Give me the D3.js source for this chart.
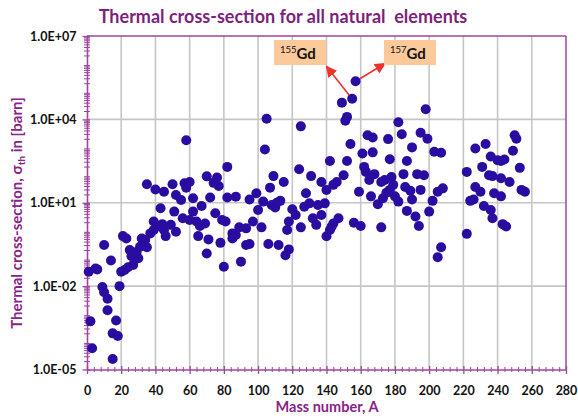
<!DOCTYPE html>
<html>
<head>
<meta charset="utf-8">
<script src="https://cdn.jsdelivr.net/npm/d3@7/dist/d3.min.js"></script>
<style>
  body { margin: 0; background: #fff; }
  svg { display: block; }
</style>
</head>
<body>
<svg id="chart" width="578" height="416"></svg>
<script>
// Thermal neutron capture cross-section (barn) versus mass number A
const massNumber = [
  1, 2, 3, 5, 6, 9, 10, 10, 12, 12, 14, 15, 15, 17, 18, 19, 20, 21, 22, 23,
  24, 25, 26, 27, 29, 30, 31, 32, 34, 35, 35, 37, 39, 39, 40, 43, 43, 44, 45, 45,
  46, 49, 50, 51, 52, 52, 55, 56, 57, 58, 58, 60, 60, 62, 62, 64, 65, 66, 67, 70,
  69, 71, 70, 72, 74, 75, 76, 77, 78, 79, 80, 81, 82, 82, 85, 85, 87, 87, 89, 90,
  93, 93, 95, 95, 97, 99, 100, 102, 103, 104, 105, 106, 107, 108, 109, 110, 111, 113, 112, 115,
  116, 117, 118, 118, 120, 122, 124, 125, 125, 127, 128, 130, 131, 132, 134, 135, 137, 137, 139, 140,
  140, 142, 142, 143, 144, 144, 146, 147, 149, 150, 151, 152, 152, 154, 155, 156, 157, 159, 160, 161,
  162, 163, 164, 165, 166, 167, 167, 168, 170, 172, 172, 173, 174, 175, 176, 177, 177, 178, 179, 180,
  182, 182, 184, 185, 186, 187, 187, 189, 190, 190, 192, 193, 194, 195, 195, 197, 198, 199, 200, 202,
  203, 205, 205, 207, 207, 208, 222, 222, 224, 226, 227, 227, 230, 231, 232, 233, 235, 236, 236, 237,
  237, 238, 240, 242, 242, 242, 243, 244, 245, 247, 249, 250, 251, 253, 254, 256
];
const crossSection = [
  0.033, 5.4e-4, 5.8e-5, 0.043, 0.040, 0.0093, 0.0060, 0.30, 0.0035, 0.00135, 0.083, 2.0e-4, 2.4e-5, 5.8e-4, 1.6e-4, 0.010, 0.033, 0.63, 0.038, 0.52,
  0.048, 0.20, 0.12, 0.058, 0.17, 0.10, 0.26, 0.52, 0.46, 0.25, 46, 0.79, 2.1, 1.05, 30, 6.3, 1.4, 1.7, 1.05, 25,
  0.63, 1.6, 46, 4.8, 0.91, 19, 12.6, 2.75, 50, 35, 1780, 56, 2.4, 4.8, 14.5, 2.1, 0.63, 1.45, 7.6, 89,
  1.8, 0.48, 0.15, 15.5, 52, 4.2, 81, 40, 0.36, 2.4, 0.050, 2.1, 15.5, 195, 0.79, 0.52, 16.6, 0.69, 1.3, 0.076,
  1.2, 0.30, 0.33, 13, 2.1, 22, 5.5, 1.3, 11, 830, 10500, 0.33, 35, 8.3, 91, 6.8, 10, 11.7, 0.30, 56,
  0.13, 1.05, 0.21, 2.1, 5.8, 3.6, 160, 1.3, 5600, 7.2, 22, 9.5, 91, 2.75, 1.6, 8.3, 3.6, 56, 9.5, 0.62,
  29, 320, 1.05, 1.38, 44, 1.8, 56, 2.75, 40000, 98, 8900, 12300, 320, 1300, 55000, 1.9, 234000, 25, 1.45, 590,
  195, 129, 2700, 66, 17, 650, 2240, 107, 8.9, 56, 1.3, 14.5, 66, 23, 1950, 370, 29, 85, 44, 17,
  7900, 11, 2900, 107, 37, 316, 5.1, 27, 13, 980, 3.2, 107, 1.45, 29, 3300, 98, 23000, 2000, 4.8, 11.7,
  680, 25, 0.11, 630, 0.25, 33, 0.76, 129, 11.7, 13, 890, 37, 25, 195, 7.6, 1300, 98, 5.5, 460, 91,
  2.75, 22, 340, 320, 76, 17, 1.7, 360, 1.4, 56, 740, 2700, 2000, 180, 29, 25
];

// Axis ticks and labels
const xTicks = [0, 20, 40, 60, 80, 100, 120, 140, 160, 180, 200, 220, 240, 260, 280];
const yTicks = [1e-5, 1e-2, 1e1, 1e4, 1e7];
const yTickLabels = ["1.0E-05", "1.0E-02", "1.0E+01", "1.0E+04", "1.0E+07"];

// Highlighted gadolinium isotopes
const gdMass = [155, 157];
const gdMassLabel = ["155", "157"];
const gdElement = "Gd";

const chartTitle = "Thermal cross-section for all natural  elements";
const xTitle = "Mass number, A";

const svg = d3.select("#chart");
const plotLeft = 87, plotRight = 566, plotTop = 36, plotBottom = 369.5;

const x = d3.scaleLinear().domain([0, 280]).range([plotLeft, plotRight]);
const y = d3.scaleLog().domain([1e-5, 1e7]).range([plotBottom, plotTop]);

const axisColor = "#A044A0";
const gridColor = "#C6C6C6";
const titleColor = "#7E1F7C";
const labelColor = "#8A2388";
const dotColor = "#2A0DA0";
const arrowColor = "#F0322C";
const boxFill = "#FBC99A";
const fontStack = "Lato, 'Liberation Sans', sans-serif";

// Gridlines
const grid = svg.append("g");
grid.selectAll("line.v")
  .data(xTicks.filter(d => d > 0 && d < 280))
  .join("line").attr("class", "v")
  .attr("x1", d => x(d)).attr("x2", d => x(d))
  .attr("y1", plotTop).attr("y2", plotBottom)
  .attr("stroke", gridColor).attr("stroke-width", 1.6);
grid.selectAll("line.h")
  .data(yTicks.filter(d => d > 1e-5 && d < 1e7))
  .join("line").attr("class", "h")
  .attr("x1", plotLeft).attr("x2", plotRight)
  .attr("y1", d => y(d)).attr("y2", d => y(d))
  .attr("stroke", gridColor).attr("stroke-width", 1.6);

// Frame on the top and right
svg.append("line").attr("x1", plotLeft).attr("x2", plotRight).attr("y1", plotTop).attr("y2", plotTop)
  .attr("stroke", axisColor).attr("stroke-width", 1.5);
svg.append("line").attr("x1", plotRight).attr("x2", plotRight).attr("y1", plotTop).attr("y2", plotBottom)
  .attr("stroke", axisColor).attr("stroke-width", 1.5);

// Minor ticks
const yMinor = [];
for (let e = -5; e < 7; e++) for (let m = 2; m <= 9; m++) yMinor.push(m * Math.pow(10, e));
const xMinor = d3.range(4, 280, 4).filter(d => d % 20 !== 0);

const yMinorAxis = svg.append("g").attr("transform", `translate(${plotLeft},0)`)
  .call(d3.axisLeft(y).tickValues(yMinor).tickFormat("").tickSize(3).tickSizeOuter(0));
yMinorAxis.select(".domain").remove();
yMinorAxis.selectAll(".tick line").attr("x1", 3).attr("stroke", axisColor).attr("stroke-width", 1);

const xMinorAxis = svg.append("g").attr("transform", `translate(0,${plotBottom})`)
  .call(d3.axisBottom(x).tickValues(xMinor).tickFormat("").tickSize(2.5).tickSizeOuter(0));
xMinorAxis.select(".domain").remove();
xMinorAxis.selectAll(".tick line").attr("y1", -2.5).attr("stroke", axisColor).attr("stroke-width", 1);

// Main axes
const yAxis = svg.append("g").attr("transform", `translate(${plotLeft},0)`)
  .call(d3.axisLeft(y).tickValues(yTicks).tickFormat((d, i) => yTickLabels[i])
    .tickSize(4.5).tickSizeOuter(0).tickPadding(6));
yAxis.select(".domain").attr("stroke", axisColor).attr("stroke-width", 1.6);
yAxis.selectAll(".tick line").attr("x1", 3).attr("stroke", axisColor).attr("stroke-width", 1.3);
yAxis.selectAll(".tick text")
  .attr("fill", "#111").attr("font-family", fontStack)
  .attr("font-weight", "bold").attr("font-size", 12.5);

const xAxis = svg.append("g").attr("transform", `translate(0,${plotBottom})`)
  .call(d3.axisBottom(x).tickValues(xTicks).tickFormat(d3.format("d"))
    .tickSize(4.5).tickSizeOuter(0).tickPadding(12));
xAxis.select(".domain").attr("stroke", axisColor).attr("stroke-width", 1.6);
xAxis.selectAll(".tick line").attr("y1", -3.5).attr("stroke", axisColor).attr("stroke-width", 1.3);
xAxis.selectAll(".tick text")
  .attr("fill", "#111").attr("font-family", fontStack)
  .attr("font-weight", "bold").attr("font-size", 12.5);

// Arrows from the Gd points to their labels
const defs = svg.append("defs");
defs.append("marker").attr("id", "arrowHead")
  .attr("viewBox", "0 0 10 10").attr("refX", 9).attr("refY", 5)
  .attr("markerWidth", 7).attr("markerHeight", 7).attr("orient", "auto")
  .append("path").attr("d", "M0,0 L10,5 L0,10 Z").attr("fill", arrowColor);

const gdPoints = gdMass.map(a => {
  let best = -1;
  massNumber.forEach((m, i) => { if (m === a && (best < 0 || crossSection[i] > crossSection[best])) best = i; });
  return { a, s: crossSection[best] };
});
const boxes = [
  { x: 274, y: 40, w: 52, h: 25, tipX: 326.5, tipY: 66.5 },
  { x: 384, y: 40, w: 52, h: 25, tipX: 385, tipY: 63.5 }
];

const ann = svg.append("g");
gdPoints.forEach((p, i) => {
  const b = boxes[i];
  const px = x(p.a), py = y(p.s);
  const dx = b.tipX - px, dy = b.tipY - py, len = Math.hypot(dx, dy);
  ann.append("line")
    .attr("x1", px + dx / len * 5).attr("y1", py + dy / len * 5)
    .attr("x2", b.tipX).attr("y2", b.tipY)
    .attr("stroke", arrowColor).attr("stroke-width", 1.6)
    .attr("marker-end", "url(#arrowHead)");
  ann.append("rect").attr("x", b.x).attr("y", b.y).attr("width", b.w).attr("height", b.h)
    .attr("fill", boxFill);
  const t = ann.append("text").attr("x", b.x + 6).attr("y", b.y + 19)
    .attr("font-family", fontStack).attr("fill", "#111");
  t.append("tspan").text(gdMassLabel[i]).attr("font-size", 9.5).attr("dy", -6);
  t.append("tspan").text(gdElement).attr("font-size", 15).attr("font-weight", "bold").attr("dy", 6);
});

// Data points
svg.append("g").selectAll("circle")
  .data(massNumber.map((a, i) => ({ a, s: crossSection[i] })))
  .join("circle")
  .attr("cx", d => x(d.a)).attr("cy", d => y(d.s)).attr("r", 5)
  .attr("fill", dotColor);

// Titles
svg.append("text").attr("x", 283).attr("y", 23).attr("text-anchor", "middle")
  .attr("font-family", fontStack).attr("font-weight", "bold")
  .attr("font-size", 18).attr("fill", titleColor).style("white-space", "pre")
  .text(chartTitle);

svg.append("text").attr("x", 327).attr("y", 412).attr("text-anchor", "middle")
  .attr("font-family", fontStack).attr("font-weight", "bold")
  .attr("font-size", 14.5).attr("fill", labelColor)
  .text(xTitle);

const yt = svg.append("text").attr("transform", "translate(22,213) rotate(-90)")
  .attr("text-anchor", "middle")
  .attr("font-family", fontStack).attr("font-weight", "bold")
  .attr("font-size", 15).attr("fill", labelColor);
yt.append("tspan").text("Thermal cross-section, σ");
yt.append("tspan").text("th").attr("font-size", 10).attr("dy", 3);
yt.append("tspan").text(" in [barn]").attr("dy", -3);
</script>
</body>
</html>
